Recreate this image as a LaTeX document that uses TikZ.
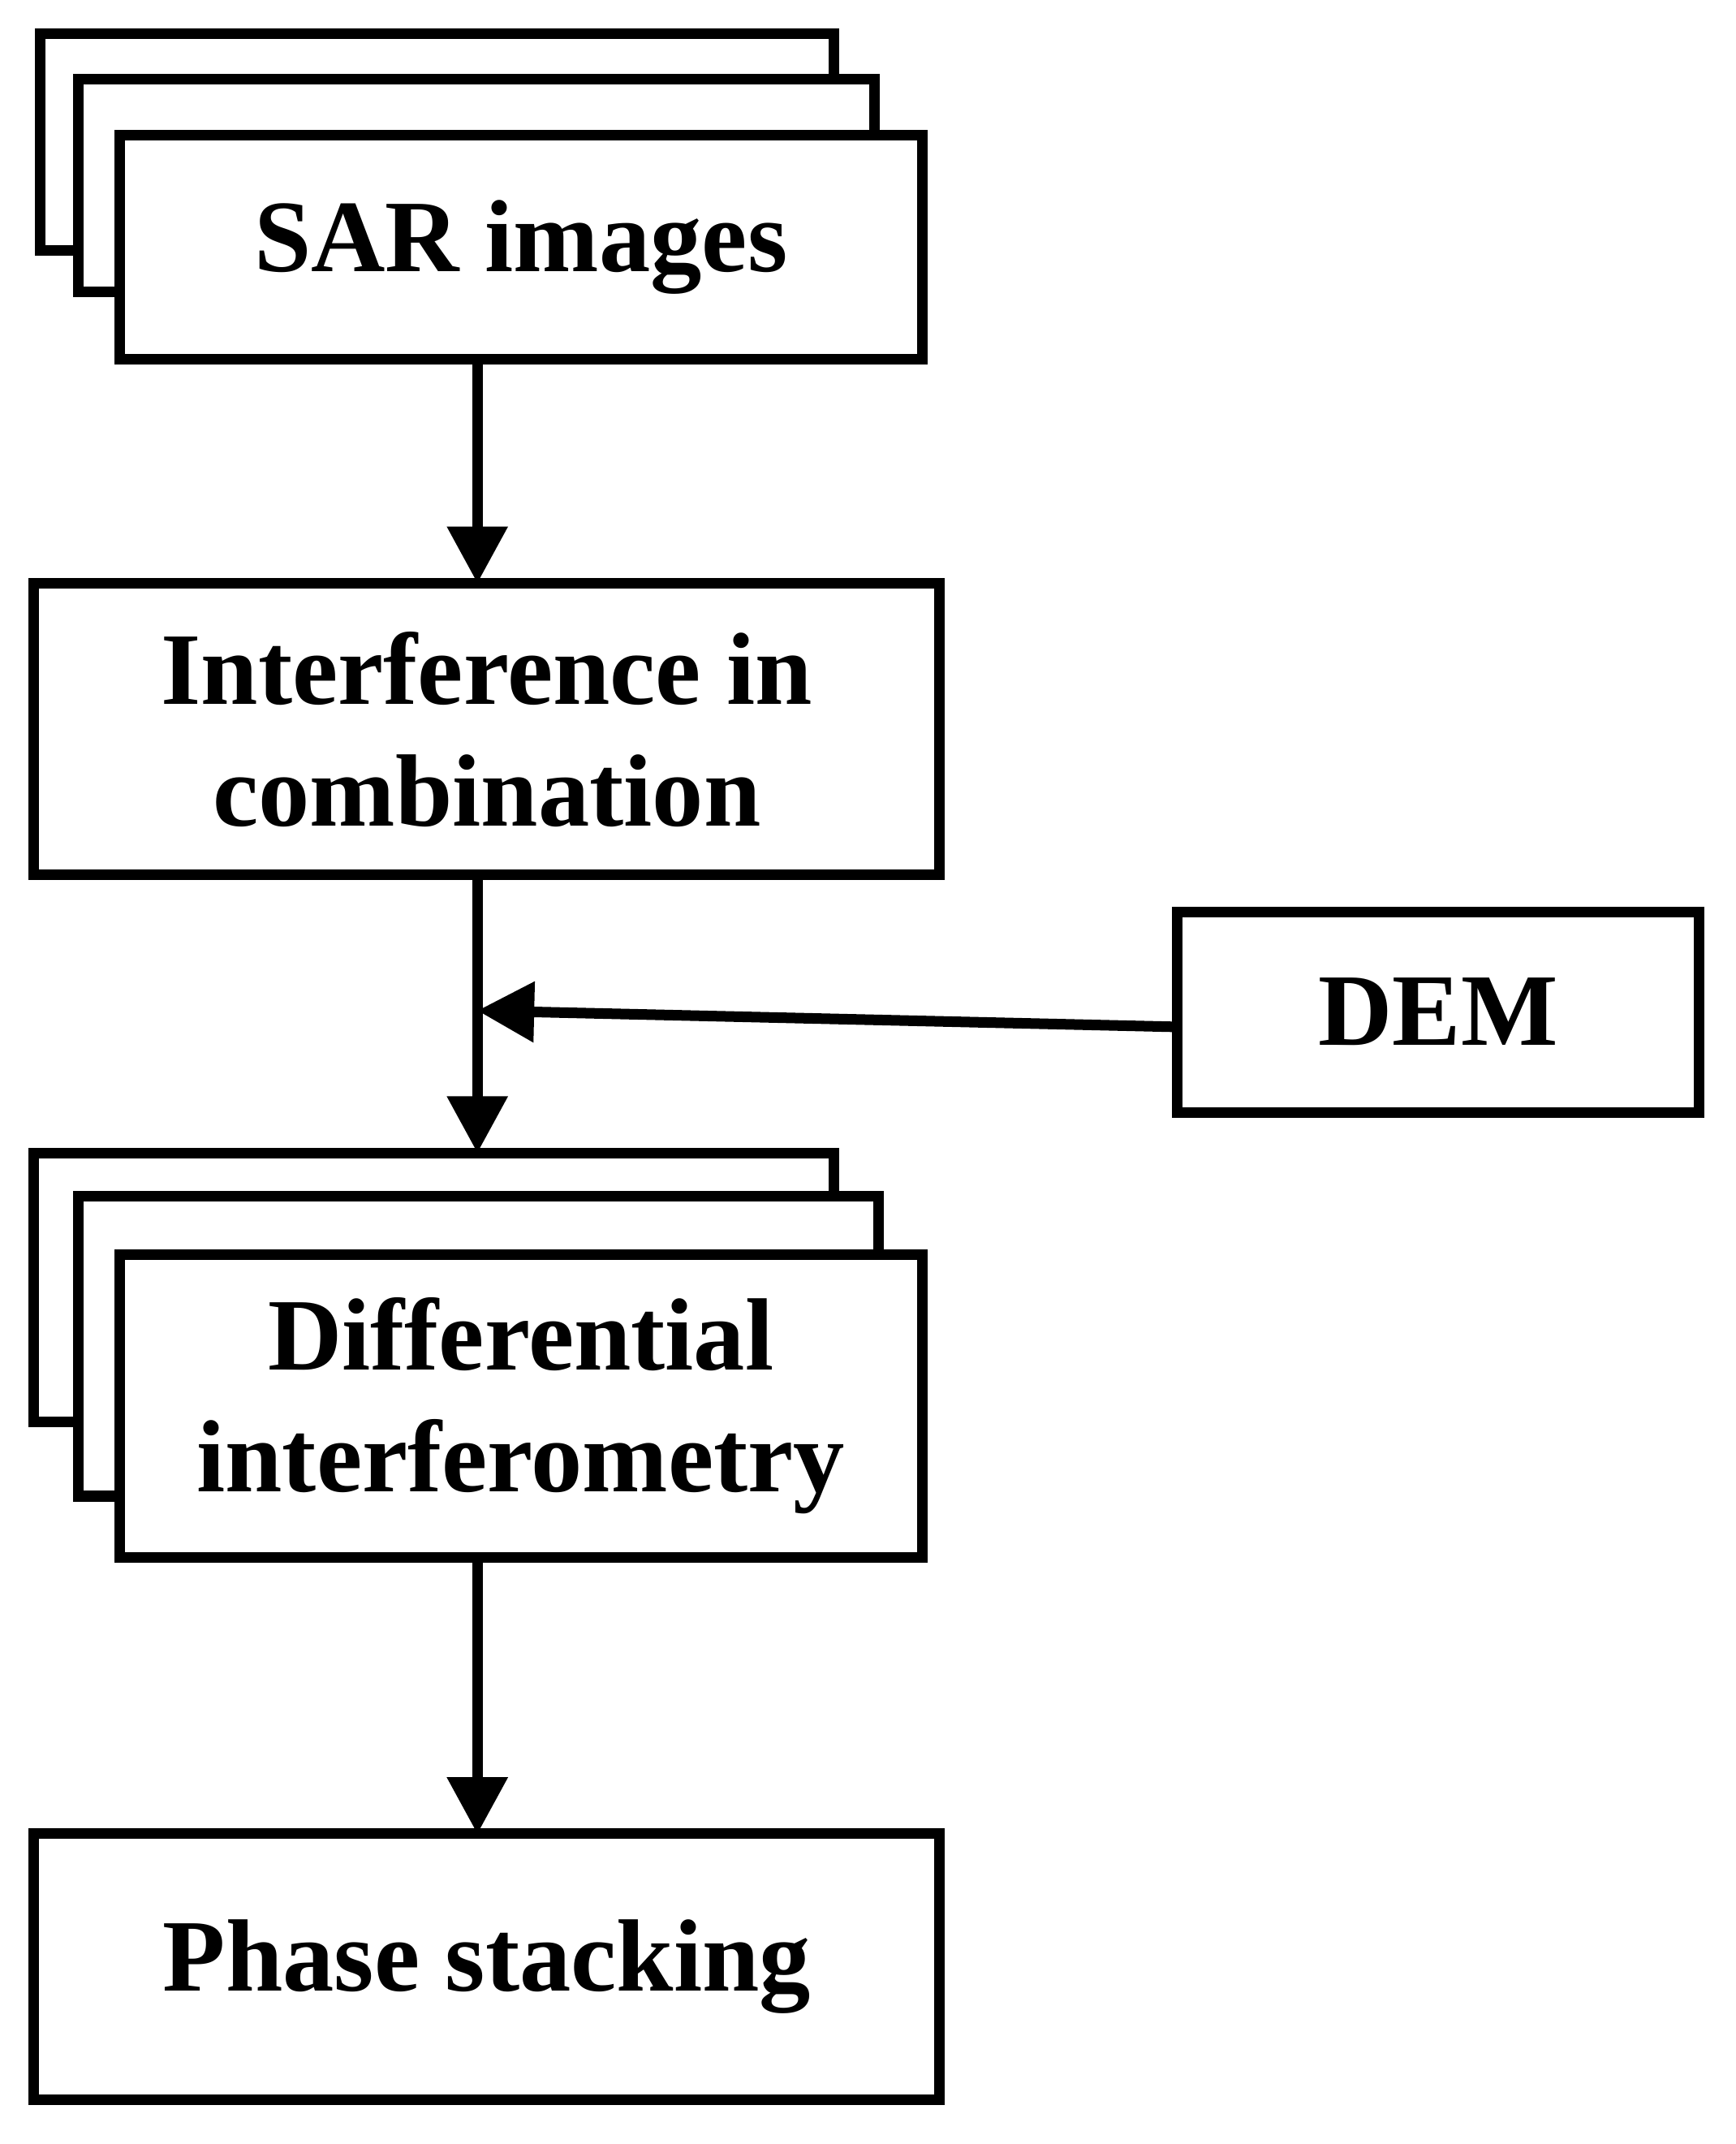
\documentclass[tikz,border=0pt]{standalone}
\usepackage{fontspec}
\setmainfont{Liberation Serif}
\usetikzlibrary{arrows.meta}
\begin{document}
\begin{tikzpicture}[x=0.01671cm,y=-0.01671cm,
  box/.style={draw,line width=3.7pt,fill=white,inner sep=0pt,align=center,
    font=\fontsize{36}{42.7}\selectfont\bfseries},
  arr/.style={line width=3.7pt,-{Triangle[width=0.72cm,length=0.7cm]}}]
\useasboundingbox (0,0) rectangle (1280,1580.5);
\node[box,minimum width=9.78cm,minimum height=2.67cm] (s3) at (322.5,105) {};
\node[box,minimum width=9.81cm,minimum height=2.62cm] (s2) at (351.5,136.5) {};
\node[box,minimum width=9.89cm,minimum height=2.76cm] (s1) at (384,182.5) {SAR images};
\node[box,minimum width=11.16cm,minimum height=3.59cm] (int) at (359,537.5) {Interference in\\combination};
\node[box,minimum width=6.43cm,minimum height=2.47cm] (dem) at (1060.5,746) {DEM};
\node[box,minimum width=9.86cm,minimum height=3.31cm] (d3) at (320,949) {};
\node[box,minimum width=9.86cm,minimum height=3.69cm] (d2) at (353,992.5) {};
\node[box,minimum width=9.89cm,minimum height=3.73cm] (d1) at (384,1036.5) {Differential\\interferometry};
\node[box,minimum width=11.16cm,minimum height=3.28cm] (ph) at (359,1450) {Phase stacking};
\coordinate (a1) at (352,265);
\coordinate (a2) at (352,430);
\coordinate (a3) at (352,645);
\coordinate (a4) at (352,850);
\coordinate (a5) at (352,745);
\coordinate (a6) at (868,757);
\coordinate (a7) at (352,1148);
\coordinate (a8) at (352,1352);
\draw[arr] (a1) -- (a2);
\draw[arr] (a3) -- (a4);
\draw[arr] (a6) -- (a5);
\draw[arr] (a7) -- (a8);
\end{tikzpicture}
\end{document}
